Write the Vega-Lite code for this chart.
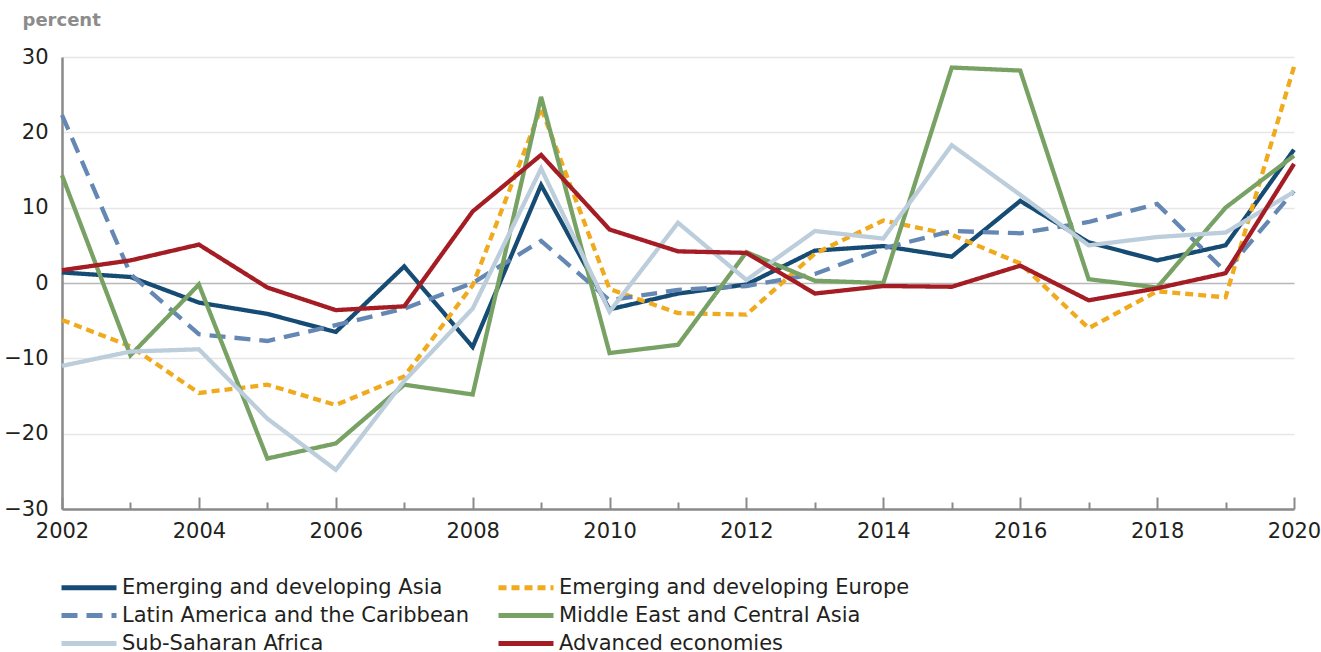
{
  "$schema": "https://vega.github.io/schema/vega-lite/v6.json",
  "width": 1232,
  "height": 452,
  "autosize": {"type": "none"},
  "padding": {"left": 62, "top": 57, "right": 27, "bottom": 143},
  "background": "white",
  "config": {"view": {"stroke": null}, "font": "DejaVu Sans"},
  "data": {"values": [
    {"year": 2002, "s": "Emerging and developing Asia", "v": 1.4},
    {"year": 2003, "s": "Emerging and developing Asia", "v": 0.8},
    {"year": 2004, "s": "Emerging and developing Asia", "v": -2.6},
    {"year": 2005, "s": "Emerging and developing Asia", "v": -4.1},
    {"year": 2006, "s": "Emerging and developing Asia", "v": -6.5},
    {"year": 2007, "s": "Emerging and developing Asia", "v": 2.2},
    {"year": 2008, "s": "Emerging and developing Asia", "v": -8.5},
    {"year": 2009, "s": "Emerging and developing Asia", "v": 13.0},
    {"year": 2010, "s": "Emerging and developing Asia", "v": -3.5},
    {"year": 2011, "s": "Emerging and developing Asia", "v": -1.4},
    {"year": 2012, "s": "Emerging and developing Asia", "v": -0.2},
    {"year": 2013, "s": "Emerging and developing Asia", "v": 4.3},
    {"year": 2014, "s": "Emerging and developing Asia", "v": 4.9},
    {"year": 2015, "s": "Emerging and developing Asia", "v": 3.5},
    {"year": 2016, "s": "Emerging and developing Asia", "v": 10.9},
    {"year": 2017, "s": "Emerging and developing Asia", "v": 5.4},
    {"year": 2018, "s": "Emerging and developing Asia", "v": 3.0},
    {"year": 2019, "s": "Emerging and developing Asia", "v": 5.0},
    {"year": 2020, "s": "Emerging and developing Asia", "v": 17.7},
    {"year": 2002, "s": "Emerging and developing Europe", "v": -4.9},
    {"year": 2003, "s": "Emerging and developing Europe", "v": -8.4},
    {"year": 2004, "s": "Emerging and developing Europe", "v": -14.6},
    {"year": 2005, "s": "Emerging and developing Europe", "v": -13.5},
    {"year": 2006, "s": "Emerging and developing Europe", "v": -16.2},
    {"year": 2007, "s": "Emerging and developing Europe", "v": -12.4},
    {"year": 2008, "s": "Emerging and developing Europe", "v": -0.3},
    {"year": 2009, "s": "Emerging and developing Europe", "v": 23.2},
    {"year": 2010, "s": "Emerging and developing Europe", "v": -0.8},
    {"year": 2011, "s": "Emerging and developing Europe", "v": -4.0},
    {"year": 2012, "s": "Emerging and developing Europe", "v": -4.2},
    {"year": 2013, "s": "Emerging and developing Europe", "v": 3.9},
    {"year": 2014, "s": "Emerging and developing Europe", "v": 8.3},
    {"year": 2015, "s": "Emerging and developing Europe", "v": 6.4},
    {"year": 2016, "s": "Emerging and developing Europe", "v": 2.6},
    {"year": 2017, "s": "Emerging and developing Europe", "v": -6.0},
    {"year": 2018, "s": "Emerging and developing Europe", "v": -1.1},
    {"year": 2019, "s": "Emerging and developing Europe", "v": -1.9},
    {"year": 2020, "s": "Emerging and developing Europe", "v": 28.7},
    {"year": 2002, "s": "Latin America and the Caribbean", "v": 22.3},
    {"year": 2003, "s": "Latin America and the Caribbean", "v": 1.2},
    {"year": 2004, "s": "Latin America and the Caribbean", "v": -6.8},
    {"year": 2005, "s": "Latin America and the Caribbean", "v": -7.7},
    {"year": 2006, "s": "Latin America and the Caribbean", "v": -5.6},
    {"year": 2007, "s": "Latin America and the Caribbean", "v": -3.4},
    {"year": 2008, "s": "Latin America and the Caribbean", "v": 0.0},
    {"year": 2009, "s": "Latin America and the Caribbean", "v": 5.6},
    {"year": 2010, "s": "Latin America and the Caribbean", "v": -2.3},
    {"year": 2011, "s": "Latin America and the Caribbean", "v": -0.9},
    {"year": 2012, "s": "Latin America and the Caribbean", "v": -0.4},
    {"year": 2013, "s": "Latin America and the Caribbean", "v": 1.2},
    {"year": 2014, "s": "Latin America and the Caribbean", "v": 4.6},
    {"year": 2015, "s": "Latin America and the Caribbean", "v": 6.9},
    {"year": 2016, "s": "Latin America and the Caribbean", "v": 6.6},
    {"year": 2017, "s": "Latin America and the Caribbean", "v": 8.1},
    {"year": 2018, "s": "Latin America and the Caribbean", "v": 10.5},
    {"year": 2019, "s": "Latin America and the Caribbean", "v": 1.5},
    {"year": 2020, "s": "Latin America and the Caribbean", "v": 12.2},
    {"year": 2002, "s": "Middle East and Central Asia", "v": 14.3},
    {"year": 2003, "s": "Middle East and Central Asia", "v": -9.6},
    {"year": 2004, "s": "Middle East and Central Asia", "v": -0.2},
    {"year": 2005, "s": "Middle East and Central Asia", "v": -23.3},
    {"year": 2006, "s": "Middle East and Central Asia", "v": -21.3},
    {"year": 2007, "s": "Middle East and Central Asia", "v": -13.5},
    {"year": 2008, "s": "Middle East and Central Asia", "v": -14.8},
    {"year": 2009, "s": "Middle East and Central Asia", "v": 24.7},
    {"year": 2010, "s": "Middle East and Central Asia", "v": -9.3},
    {"year": 2011, "s": "Middle East and Central Asia", "v": -8.2},
    {"year": 2012, "s": "Middle East and Central Asia", "v": 4.1},
    {"year": 2013, "s": "Middle East and Central Asia", "v": 0.3},
    {"year": 2014, "s": "Middle East and Central Asia", "v": 0.0},
    {"year": 2015, "s": "Middle East and Central Asia", "v": 28.6},
    {"year": 2016, "s": "Middle East and Central Asia", "v": 28.2},
    {"year": 2017, "s": "Middle East and Central Asia", "v": 0.5},
    {"year": 2018, "s": "Middle East and Central Asia", "v": -0.6},
    {"year": 2019, "s": "Middle East and Central Asia", "v": 10.0},
    {"year": 2020, "s": "Middle East and Central Asia", "v": 16.9},
    {"year": 2002, "s": "Sub-Saharan Africa", "v": -11.0},
    {"year": 2003, "s": "Sub-Saharan Africa", "v": -9.1},
    {"year": 2004, "s": "Sub-Saharan Africa", "v": -8.8},
    {"year": 2005, "s": "Sub-Saharan Africa", "v": -18.0},
    {"year": 2006, "s": "Sub-Saharan Africa", "v": -24.8},
    {"year": 2007, "s": "Sub-Saharan Africa", "v": -13.0},
    {"year": 2008, "s": "Sub-Saharan Africa", "v": -3.4},
    {"year": 2009, "s": "Sub-Saharan Africa", "v": 15.2},
    {"year": 2010, "s": "Sub-Saharan Africa", "v": -3.8},
    {"year": 2011, "s": "Sub-Saharan Africa", "v": 8.0},
    {"year": 2012, "s": "Sub-Saharan Africa", "v": 0.4},
    {"year": 2013, "s": "Sub-Saharan Africa", "v": 6.9},
    {"year": 2014, "s": "Sub-Saharan Africa", "v": 5.9},
    {"year": 2015, "s": "Sub-Saharan Africa", "v": 18.3},
    {"year": 2016, "s": "Sub-Saharan Africa", "v": 11.7},
    {"year": 2017, "s": "Sub-Saharan Africa", "v": 5.0},
    {"year": 2018, "s": "Sub-Saharan Africa", "v": 6.1},
    {"year": 2019, "s": "Sub-Saharan Africa", "v": 6.7},
    {"year": 2020, "s": "Sub-Saharan Africa", "v": 12.1},
    {"year": 2002, "s": "Advanced economies", "v": 1.7},
    {"year": 2003, "s": "Advanced economies", "v": 3.0},
    {"year": 2004, "s": "Advanced economies", "v": 5.1},
    {"year": 2005, "s": "Advanced economies", "v": -0.6},
    {"year": 2006, "s": "Advanced economies", "v": -3.6},
    {"year": 2007, "s": "Advanced economies", "v": -3.1},
    {"year": 2008, "s": "Advanced economies", "v": 9.5},
    {"year": 2009, "s": "Advanced economies", "v": 17.0},
    {"year": 2010, "s": "Advanced economies", "v": 7.1},
    {"year": 2011, "s": "Advanced economies", "v": 4.2},
    {"year": 2012, "s": "Advanced economies", "v": 4.0},
    {"year": 2013, "s": "Advanced economies", "v": -1.4},
    {"year": 2014, "s": "Advanced economies", "v": -0.4},
    {"year": 2015, "s": "Advanced economies", "v": -0.5},
    {"year": 2016, "s": "Advanced economies", "v": 2.3},
    {"year": 2017, "s": "Advanced economies", "v": -2.3},
    {"year": 2018, "s": "Advanced economies", "v": -0.7},
    {"year": 2019, "s": "Advanced economies", "v": 1.3},
    {"year": 2020, "s": "Advanced economies", "v": 15.8}
  ]},
  "mark": {"type": "line", "strokeWidth": 4.3, "strokeCap": "butt", "strokeJoin": "miter"},
  "encoding": {
    "x": {
      "field": "year", "type": "quantitative",
      "scale": {"domain": [2002, 2020], "nice": false, "zero": false},
      "axis": {
        "title": null,
        "values": [2002, 2003, 2004, 2005, 2006, 2007, 2008, 2009, 2010, 2011, 2012, 2013, 2014, 2015, 2016, 2017, 2018, 2019, 2020],
        "format": "d",
        "labelExpr": "datum.value % 2 === 0 ? datum.label : ''",
        "grid": false,
        "domainColor": "#8a8a8a", "domainWidth": 2.5,
        "tickColor": "#8a8a8a", "tickWidth": 2,
        "tickSize": {"condition": {"test": "datum.value % 2 === 0", "value": -12}, "value": -7},
        "labelFontSize": 21, "labelColor": "#231f20", "labelPadding": 23,
        "labelFlush": false, "labelOverlap": false
      }
    },
    "y": {
      "field": "v", "type": "quantitative",
      "scale": {"domain": [-30, 30], "nice": false},
      "axis": {
        "values": [-30, -20, -10, 0, 10, 20, 30],
        "format": "d",
        "grid": true,
        "gridColor": {"condition": {"test": "datum.value === 0", "value": "#b8b8b8"}, "value": "#e6e6e6"},
        "gridWidth": 1.5,
        "domainColor": "#8a8a8a", "domainWidth": 2.5,
        "ticks": false,
        "labelPadding": 14,
        "labelFontSize": 21, "labelColor": "#231f20",
        "title": "percent", "titleAngle": 0, "titleX": -40, "titleY": -37,
        "titleAlign": "left", "titleBaseline": "middle",
        "titleFontSize": 18, "titleFontWeight": "bold", "titleColor": "#8c8c8c"
      }
    },
    "color": {
      "field": "s", "type": "nominal",
      "scale": {
        "domain": ["Emerging and developing Asia", "Emerging and developing Europe", "Latin America and the Caribbean", "Middle East and Central Asia", "Sub-Saharan Africa", "Advanced economies"],
        "range": ["#164b74", "#f0aa1e", "#6488b3", "#78a164", "#bccddb", "#a51d24"]
      },
      "legend": {
        "orient": "none", "legendX": 14.5, "legendY": 518,
        "direction": "horizontal",
        "columns": 2, "title": null, "padding": 0,
        "symbolType": "M-2.75,0H2.75", "symbolSize": 400, "symbolStrokeWidth": 5,
        "labelFontSize": 21, "labelFont": "DejaVu Sans", "labelColor": "#231f20",
        "labelOffset": 20.5, "rowPadding": 5, "columnPadding": 19, "labelLimit": 600
      }
    },
    "strokeDash": {
      "field": "s", "type": "nominal",
      "scale": {
        "domain": ["Emerging and developing Asia", "Emerging and developing Europe", "Latin America and the Caribbean", "Middle East and Central Asia", "Sub-Saharan Africa", "Advanced economies"],
        "range": [[1, 0], [8, 5], [16, 9], [1, 0], [1, 0], [1, 0]]
      }
    }
  }
}
